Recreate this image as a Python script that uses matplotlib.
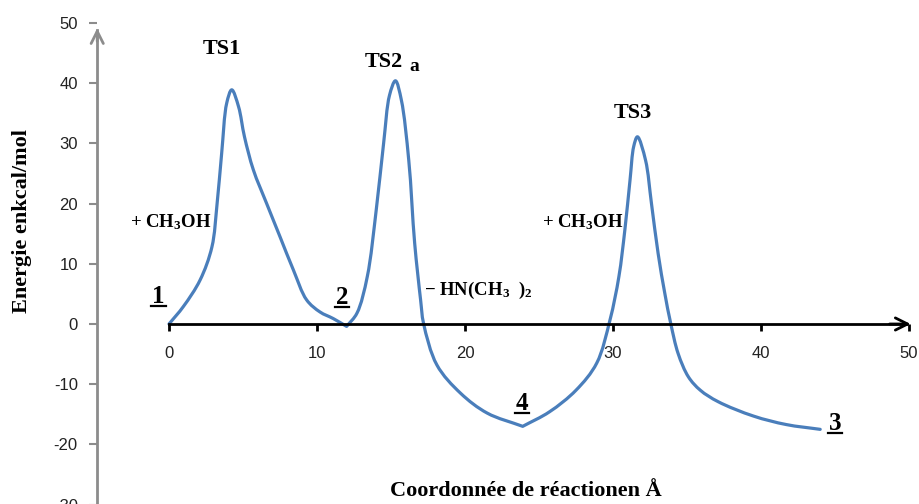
import matplotlib
matplotlib.use("Agg")
import matplotlib.pyplot as plt
from matplotlib.lines import Line2D
from matplotlib.path import Path
from matplotlib.patches import PathPatch

# ---- data ----
x_coord = [0.0, 0.97, 2.1, 2.9, 3.25, 3.56, 3.9, 4.24, 4.7, 5.1, 5.7, 6.6, 7.5, 8.4, 9.3,
           10.2, 11.1, 12.0, 12.7, 13.4, 14.0, 14.5, 14.9, 15.3, 15.7, 16.2, 16.6,
           17.0, 17.2, 18.1, 19.7, 21.5, 23.9, 25.7, 27.5, 28.9, 29.8, 30.4, 30.8, 31.15,
           31.4, 31.65, 32.2, 32.6, 33.05, 33.5, 33.9, 34.4, 35.1, 35.9, 37.1, 39.5, 41.7, 44.0]
energy = [0.0, 2.9, 7.3, 12.8, 20.0, 28.4, 36.7, 38.9, 36.1, 31.1, 25.6, 20.0, 14.5, 9.0, 4.0,
          2.0, 0.9, -0.4, 1.8, 7.9, 18.9, 30.0, 38.0, 40.4, 37.2, 27.2, 13.4,
          4.0, 0.1, -6.8, -11.5, -14.8, -17.0, -14.6, -11.0, -6.5, 0.7, 7.9, 15.6, 23.9,
          29.5, 31.1, 27.2, 20.0, 11.7, 5.1, 0.1, -4.9, -8.8, -11.0, -12.9, -15.3, -16.7, -17.5]
corner_points = [12.0, 23.9]   # structures 2 and 4 meet the curve in a sharp corner

y_ticks = [-30, -20, -10, 0, 10, 20, 30, 40, 50]
x_ticks = [0, 10, 20, 30, 40, 50]

W, H = 919, 504
plt.rcParams['mathtext.fontset'] = 'custom'
plt.rcParams['mathtext.rm'] = 'Liberation Serif:bold'
plt.rcParams['mathtext.it'] = 'Liberation Serif:bold'
plt.rcParams['mathtext.bf'] = 'Liberation Serif:bold'

fig = plt.figure(figsize=(W / 100, H / 100), dpi=100)

# pixel mapping: x px = 169 + 14.8*x ; y px (from top) = 324 - 6.02*y
SX, SY = 14.8, 6.02
xl, xr = -5.0, 50.5
yb, yt = -30.5, 52.0
left_px = 169 + SX * xl
right_px = 169 + SX * xr
top_px = 324 - SY * yt
bot_px = 324 - SY * yb
ax = fig.add_axes([left_px / W, 1 - bot_px / H, (right_px - left_px) / W, (bot_px - top_px) / H])
ax.set_xlim(xl, xr)
ax.set_ylim(yb, yt)
ax.patch.set_alpha(0)

for s in ['top', 'right']:
    ax.spines[s].set_visible(False)

yax_x = -4.85
ax.spines['left'].set_position(('data', yax_x))
ax.spines['left'].set_color('#8c8c8c')
ax.spines['left'].set_linewidth(2.0)
ax.spines['left'].set_bounds(yb, 48.8)
ax.spines['bottom'].set_position(('data', 0))
ax.spines['bottom'].set_color('black')
ax.spines['bottom'].set_linewidth(2.0)
ax.spines['bottom'].set_bounds(0, 49.8)

ax.set_yticks(y_ticks)
ax.set_yticklabels([str(v) for v in y_ticks], fontfamily='Liberation Sans', fontsize=12, color='#222222')
ax.tick_params(axis='y', direction='out', length=6, width=1.5, color='#8c8c8c', pad=8)
ax.set_xticks(x_ticks)
ax.set_xticklabels([str(v) for v in x_ticks], fontfamily='Liberation Sans', fontsize=12, color='#222222')
ax.tick_params(axis='x', direction='out', length=5, width=2, color='black', pad=11)

# arrow heads
ax.annotate('', xy=(50.3, 0), xytext=(48.5, 0),
            arrowprops=dict(arrowstyle='->', color='black', lw=2, mutation_scale=22))
ax.annotate('', xy=(yax_x, 49.6), xytext=(yax_x, 46.5),
            arrowprops=dict(arrowstyle='->', color='#8c8c8c', lw=2, mutation_scale=22))

# ---- smoothed line (centripetal Catmull-Rom drawn as Bezier path) ----
P = [(x * SX, y * SY) for x, y in zip(x_coord, energy)]
n = len(P)
corners = {0, n - 1} | {i for i, x in enumerate(x_coord) if x in corner_points}


def dist(a, b):
    return max(((a[0] - b[0]) ** 2 + (a[1] - b[1]) ** 2) ** 0.25, 1e-6)


verts = [P[0]]
codes = [Path.MOVETO]
for i in range(n - 1):
    p1, p2 = P[i], P[i + 1]
    d2 = dist(p1, p2)
    if i in corners:
        b1 = (p1[0] + (p2[0] - p1[0]) / 3, p1[1] + (p2[1] - p1[1]) / 3)
    else:
        p0 = P[i - 1]
        d1 = dist(p0, p1)
        b1 = tuple((d1 ** 2 * p2[k] - d2 ** 2 * p0[k] + (2 * d1 ** 2 + 3 * d1 * d2 + d2 ** 2) * p1[k])
                   / (3 * d1 * (d1 + d2)) for k in range(2))
    if (i + 1) in corners:
        b2 = (p2[0] - (p2[0] - p1[0]) / 3, p2[1] - (p2[1] - p1[1]) / 3)
    else:
        p3 = P[i + 2]
        d3 = dist(p2, p3)
        b2 = tuple((d3 ** 2 * p1[k] - d2 ** 2 * p3[k] + (2 * d3 ** 2 + 3 * d3 * d2 + d2 ** 2) * p2[k])
                   / (3 * d3 * (d3 + d2)) for k in range(2))
    verts += [b1, b2, p2]
    codes += [Path.CURVE4] * 3

verts = [(vx / SX, vy / SY) for vx, vy in verts]
ax.add_patch(PathPatch(Path(verts, codes), facecolor='none', edgecolor='#4a7ebb', lw=2.3,
                       joinstyle='round', capstyle='round', clip_on=False))

serif = dict(fontfamily='Liberation Serif', fontweight='bold', color='black')

ax.text(3.6, 45.6, 'TS1', ha='center', va='center', fontsize=16, **serif)
ax.text(14.5, 43.6, 'TS2', ha='center', va='center', fontsize=16, **serif)
ax.text(16.6, 42.7, 'a', ha='center', va='center', fontsize=14, **serif)
ax.text(31.35, 35.0, 'TS3', ha='center', va='center', fontsize=16, **serif)

ax.text(-2.65, 16.9, r'+ CH$_3$OH', ha='left', va='center', fontsize=13.5, **serif)
ax.text(25.2, 16.9, r'+ CH$_3$OH', ha='left', va='center', fontsize=13.5, **serif)
ax.text(17.25, 5.6, r'$\mathbf{-}$ HN(CH$_3$  )$_2$', ha='left', va='center', fontsize=13.5, **serif)

labels = []
for (lx, ly, s) in [(-0.7, 4.6, '1'), (11.7, 4.4, '2'), (23.85, -13.2, '4'), (45.0, -16.6, '3')]:
    labels.append(ax.text(lx, ly, s, ha='center', va='center', fontsize=18, **serif))

fig.text(22 / W, 1 - 221 / H, 'Energie enkcal/mol', rotation=90, ha='center', va='center',
         fontsize=16, **serif)
fig.text(526 / W, 1 - 491 / H, 'Coordonnée de réactionen Å', ha='center', va='center',
         fontsize=16, **serif)

# underline the structure numbers
fig.canvas.draw()
r = fig.canvas.get_renderer()
for t in labels:
    bb = t.get_window_extent(r)
    y = bb.y0 + 2
    fig.add_artist(Line2D([bb.x0 - 1, bb.x1 + 1], [y, y], transform=None, color='black', lw=1.6))

fig.savefig('out.png', dpi=100)
